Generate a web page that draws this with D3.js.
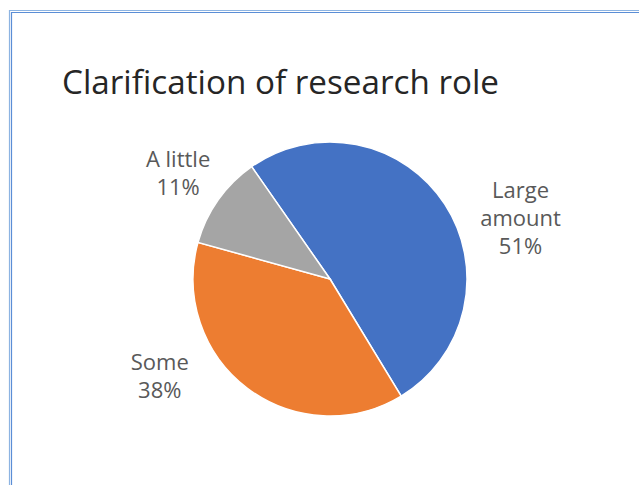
<!DOCTYPE html>
<html>
<head>
<meta charset="utf-8">
<script src="https://cdn.jsdelivr.net/npm/d3@7"></script>
<style>
  body { margin: 0; background: #fff; }
  text { font-family: "Open Sans", "Noto Sans", sans-serif; }
</style>
</head>
<body>
<svg></svg>
<script>
// Pie chart: Clarification of research role

var categories = ["Large amount", "Some", "A little"];
var values = [51, 38, 11];
var labelLines = [["Large", "amount"], ["Some"], ["A little"]];
var colors = ["#4472C4", "#ED7D31", "#A5A5A5"];

var svgWidth = 639, svgHeight = 485;
var cx = 330, cy = 279, radius = 137;
var startDeg = -34.9; // first slice starts left of 12 o'clock
// where Excel's "best fit" put each label: [degrees clockwise from top, distance from centre]
var labelPolar = [[72.3, 200], [240.3, 196], [304.8, 185]];

var svg = d3.select('svg')
    .attr('width', svgWidth)
    .attr('height', svgHeight);

// double blue frame along top and left
svg.append('path').attr('d', 'M9.5,' + svgHeight + 'V10.5H' + svgWidth)
    .attr('fill', 'none').attr('stroke', '#8DB4E2').attr('stroke-width', 1.2);
svg.append('path').attr('d', 'M11.5,' + svgHeight + 'V12.5H' + svgWidth)
    .attr('fill', 'none').attr('stroke', '#5B8ED6').attr('stroke-width', 1.2);

svg.append('text')
    .attr('x', 62)
    .attr('y', 94)
    .attr('font-size', 32)
    .attr('textLength', 437)
    .attr('lengthAdjust', 'spacingAndGlyphs')
    .attr('fill', '#262626')
    .text('Clarification of research role');

var total = d3.sum(values);
var start = startDeg * Math.PI / 180;
var pie = d3.pie().sort(null).startAngle(start).endAngle(start + 2 * Math.PI);
var arc = d3.arc().innerRadius(0).outerRadius(radius);
var slices = pie(values);

var g = svg.append('g').attr('transform', 'translate(' + cx + ',' + cy + ')');

g.selectAll('path.slice')
    .data(slices)
    .enter()
    .append('path')
    .attr('class', 'slice')
    .attr('d', arc)
    .attr('fill', function(d, i) { return colors[i]; })
    .attr('stroke', '#fff')
    .attr('stroke-width', 1.5);

var lineH = 28;
var labels = g.selectAll('text.lbl')
    .data(slices)
    .enter()
    .append('text')
    .attr('class', 'lbl')
    .attr('font-size', 22)
    .attr('fill', '#595959')
    .attr('text-anchor', 'middle')
    .attr('transform', function(d, i) {
        var a = labelPolar[i][0] * Math.PI / 180, r = labelPolar[i][1];
        return 'translate(' + (r * Math.sin(a)) + ',' + (-r * Math.cos(a)) + ')';
    });

labels.each(function(d, i) {
    var lines = labelLines[i].concat([Math.round(d.value / total * 100) + '%']);
    var el = d3.select(this);
    var top = -(lines.length - 1) * lineH / 2 + 8;
    lines.forEach(function(t, k) {
        el.append('tspan').attr('x', 0).attr('y', top + k * lineH).text(t);
    });
});
</script>
</body>
</html>
